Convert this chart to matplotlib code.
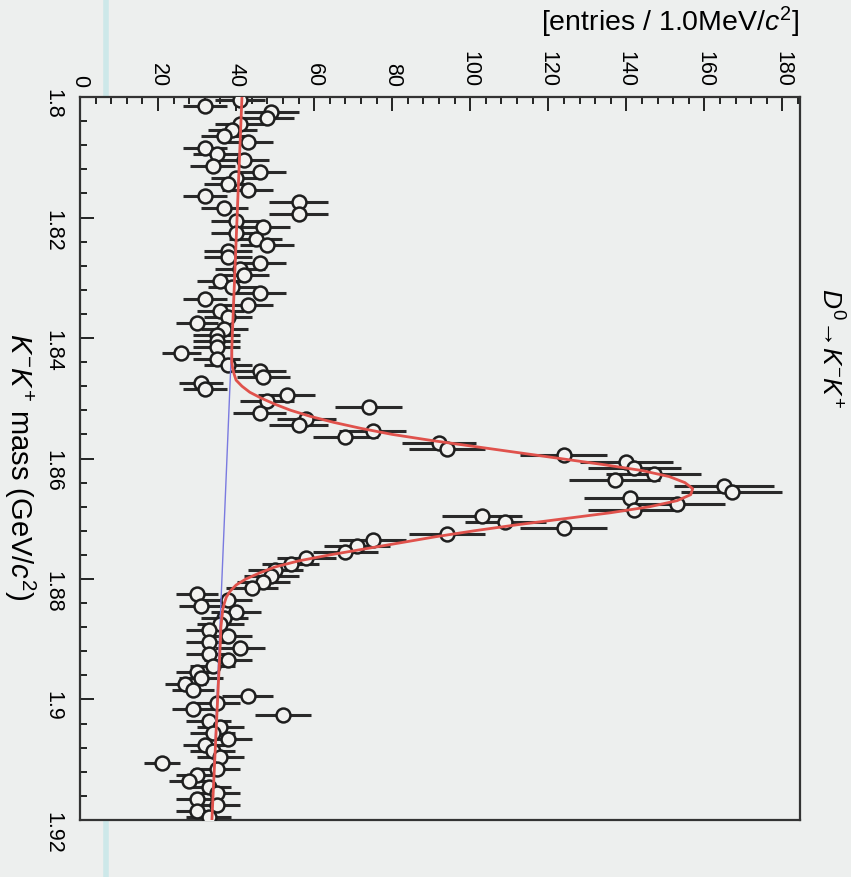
import numpy as np
import matplotlib
matplotlib.use('Agg')
import matplotlib.pyplot as plt
from matplotlib.ticker import MultipleLocator, FixedLocator, FixedFormatter

plt.rcParams['font.family'] = ['Liberation Sans', 'DejaVu Sans']
plt.rcParams['mathtext.fontset'] = 'custom'
plt.rcParams['mathtext.rm'] = 'Liberation Sans'
plt.rcParams['mathtext.it'] = 'Liberation Sans:italic'
plt.rcParams['mathtext.bf'] = 'Liberation Sans:bold'

# ==== data: K-K+ mass histogram, 1 MeV bins from 1.80 to 1.92 GeV ====
bin_edges = np.linspace(1.80, 1.92, 121)
counts = [
    41, 32, 49, 48, 41, 39, 37, 43, 32, 35,
    42, 34, 46, 40, 38, 43, 32, 56, 37, 56,
    40, 47, 40, 45, 48, 38, 38, 46, 41, 42,
    36, 39, 46, 32, 43, 36, 38, 30, 37, 35,
    35, 35, 26, 35, 38, 46, 47, 31, 32, 53,
    48, 74, 46, 58, 56, 75, 68, 92, 94, 124,
    140, 142, 147, 137, 165, 167, 141, 153, 142, 103,
    109, 124, 94, 75, 71, 68, 58, 54, 50, 49,
    47, 44, 30, 38, 31, 40, 37, 36, 33, 38,
    33, 41, 33, 38, 34, 30, 31, 27, 29, 43,
    35, 29, 52, 33, 36, 34, 38, 32, 34, 36,
    21, 35, 30, 28, 33, 35, 30, 35, 30, 33,
]

# fit curve (signal + background)
fit_mass = [1.800, 1.840, 1.842, 1.844, 1.845, 1.846, 1.847, 1.848, 1.849, 1.850,
            1.851, 1.852, 1.853, 1.854, 1.855, 1.856, 1.857, 1.858, 1.859, 1.860,
            1.861, 1.862, 1.863, 1.864, 1.865, 1.866, 1.867, 1.868, 1.869, 1.870,
            1.871, 1.872, 1.873, 1.874, 1.875, 1.876, 1.877, 1.878, 1.879, 1.880,
            1.881, 1.882, 1.883, 1.884, 1.885, 1.888, 1.890, 1.920]
fit_total = [41.5, 39.0, 38.9, 38.9, 39.1, 39.5, 40.0, 41.5, 43.5, 46.5,
             50.0, 54.0, 59.0, 65.0, 72.0, 80.0, 90.0, 101.0, 112.0, 123.0,
             134.0, 144.0, 151.0, 155.0, 157.0, 156.5, 153.0, 146.0, 136.0, 124.0,
             112.0, 101.0, 91.0, 82.0, 73.0, 64.0, 56.0, 50.0, 46.0, 42.5,
             40.0, 38.5, 37.5, 37.0, 36.6, 36.1, 36.0, 33.8]

# linear background
bkg_mass = [1.800, 1.920]
bkg_vals = [41.5, 33.8]

mass_ticks = [1.80, 1.82, 1.84, 1.86, 1.88, 1.90, 1.92]
mass_labels = ['1.8', '1.82', '1.84', '1.86', '1.88', '1.9', '1.92']
entry_ticks = [0, 20, 40, 60, 80, 100, 120, 140, 160, 180]

# ==== plot (page is rotated: mass runs downwards, entries to the right) ====
bg = '#edefee'
fig = plt.figure(figsize=(8.51, 8.77), dpi=100, facecolor=bg)
ax = fig.add_axes([80 / 851, 1 - 820 / 877, 720 / 851, 723 / 877])
ax.set_facecolor(bg)

centers = 0.5 * (bin_edges[:-1] + bin_edges[1:])
counts = np.array(counts, dtype=float)

ax.errorbar(counts, centers, xerr=np.sqrt(counts), fmt='o', ms=10,
            mfc='#f2f2f0', mec='#1e1e1e', mew=1.8, ecolor='#2a2a2a',
            elinewidth=2.2, capsize=0, zorder=3)
ax.plot(bkg_vals, bkg_mass, color='#7a7ae0', lw=1.0, zorder=4)
ax.plot(fit_total, fit_mass, color='#e0524c', lw=2.0, zorder=5)

ax.set_xlim(0, 184.5)
ax.set_ylim(1.92, 1.80)

ax.xaxis.set_major_locator(FixedLocator(entry_ticks))
ax.xaxis.set_minor_locator(MultipleLocator(4))
ax.yaxis.set_major_locator(FixedLocator(mass_ticks))
ax.yaxis.set_major_formatter(FixedFormatter(mass_labels))
ax.yaxis.set_minor_locator(MultipleLocator(0.004))

ax.tick_params(axis='x', which='both', direction='in', top=True, bottom=False,
               labeltop=True, labelbottom=False, labelrotation=-90,
               labelsize=15.5, pad=7, width=1.2)
ax.tick_params(axis='y', which='both', direction='in', left=True, right=False,
               labelleft=True, labelrotation=-90, labelsize=15.5, pad=12, width=1.2)
ax.tick_params(which='major', length=10)
ax.tick_params(which='minor', length=5)
for s in ax.spines.values():
    s.set_linewidth(1.6)
    s.set_color('#333333')

# texts
fig.text(800 / 851, 1 - 22 / 877, r'[entries / 1.0MeV/$c^{2}$]', fontsize=20.5,
         ha='right', va='center')
fig.text(20 / 851, 1 - 467 / 877, r'$K^{-}K^{+}$ mass (GeV/$c^{2}$)', fontsize=21,
         rotation=-90, ha='center', va='center')
fig.text(830 / 851, 1 - 288 / 877, r'$D^{0}$→$K^{-}K^{+}$', fontsize=19,
         rotation=-90, ha='center', va='top')

# faint scanner streak along the left edge
fig.add_artist(plt.Line2D([106 / 851, 106 / 851], [0, 1], transform=fig.transFigure,
                          color='#cde8e9', lw=4, zorder=0))

fig.savefig('out.png', dpi=100, facecolor=bg)
